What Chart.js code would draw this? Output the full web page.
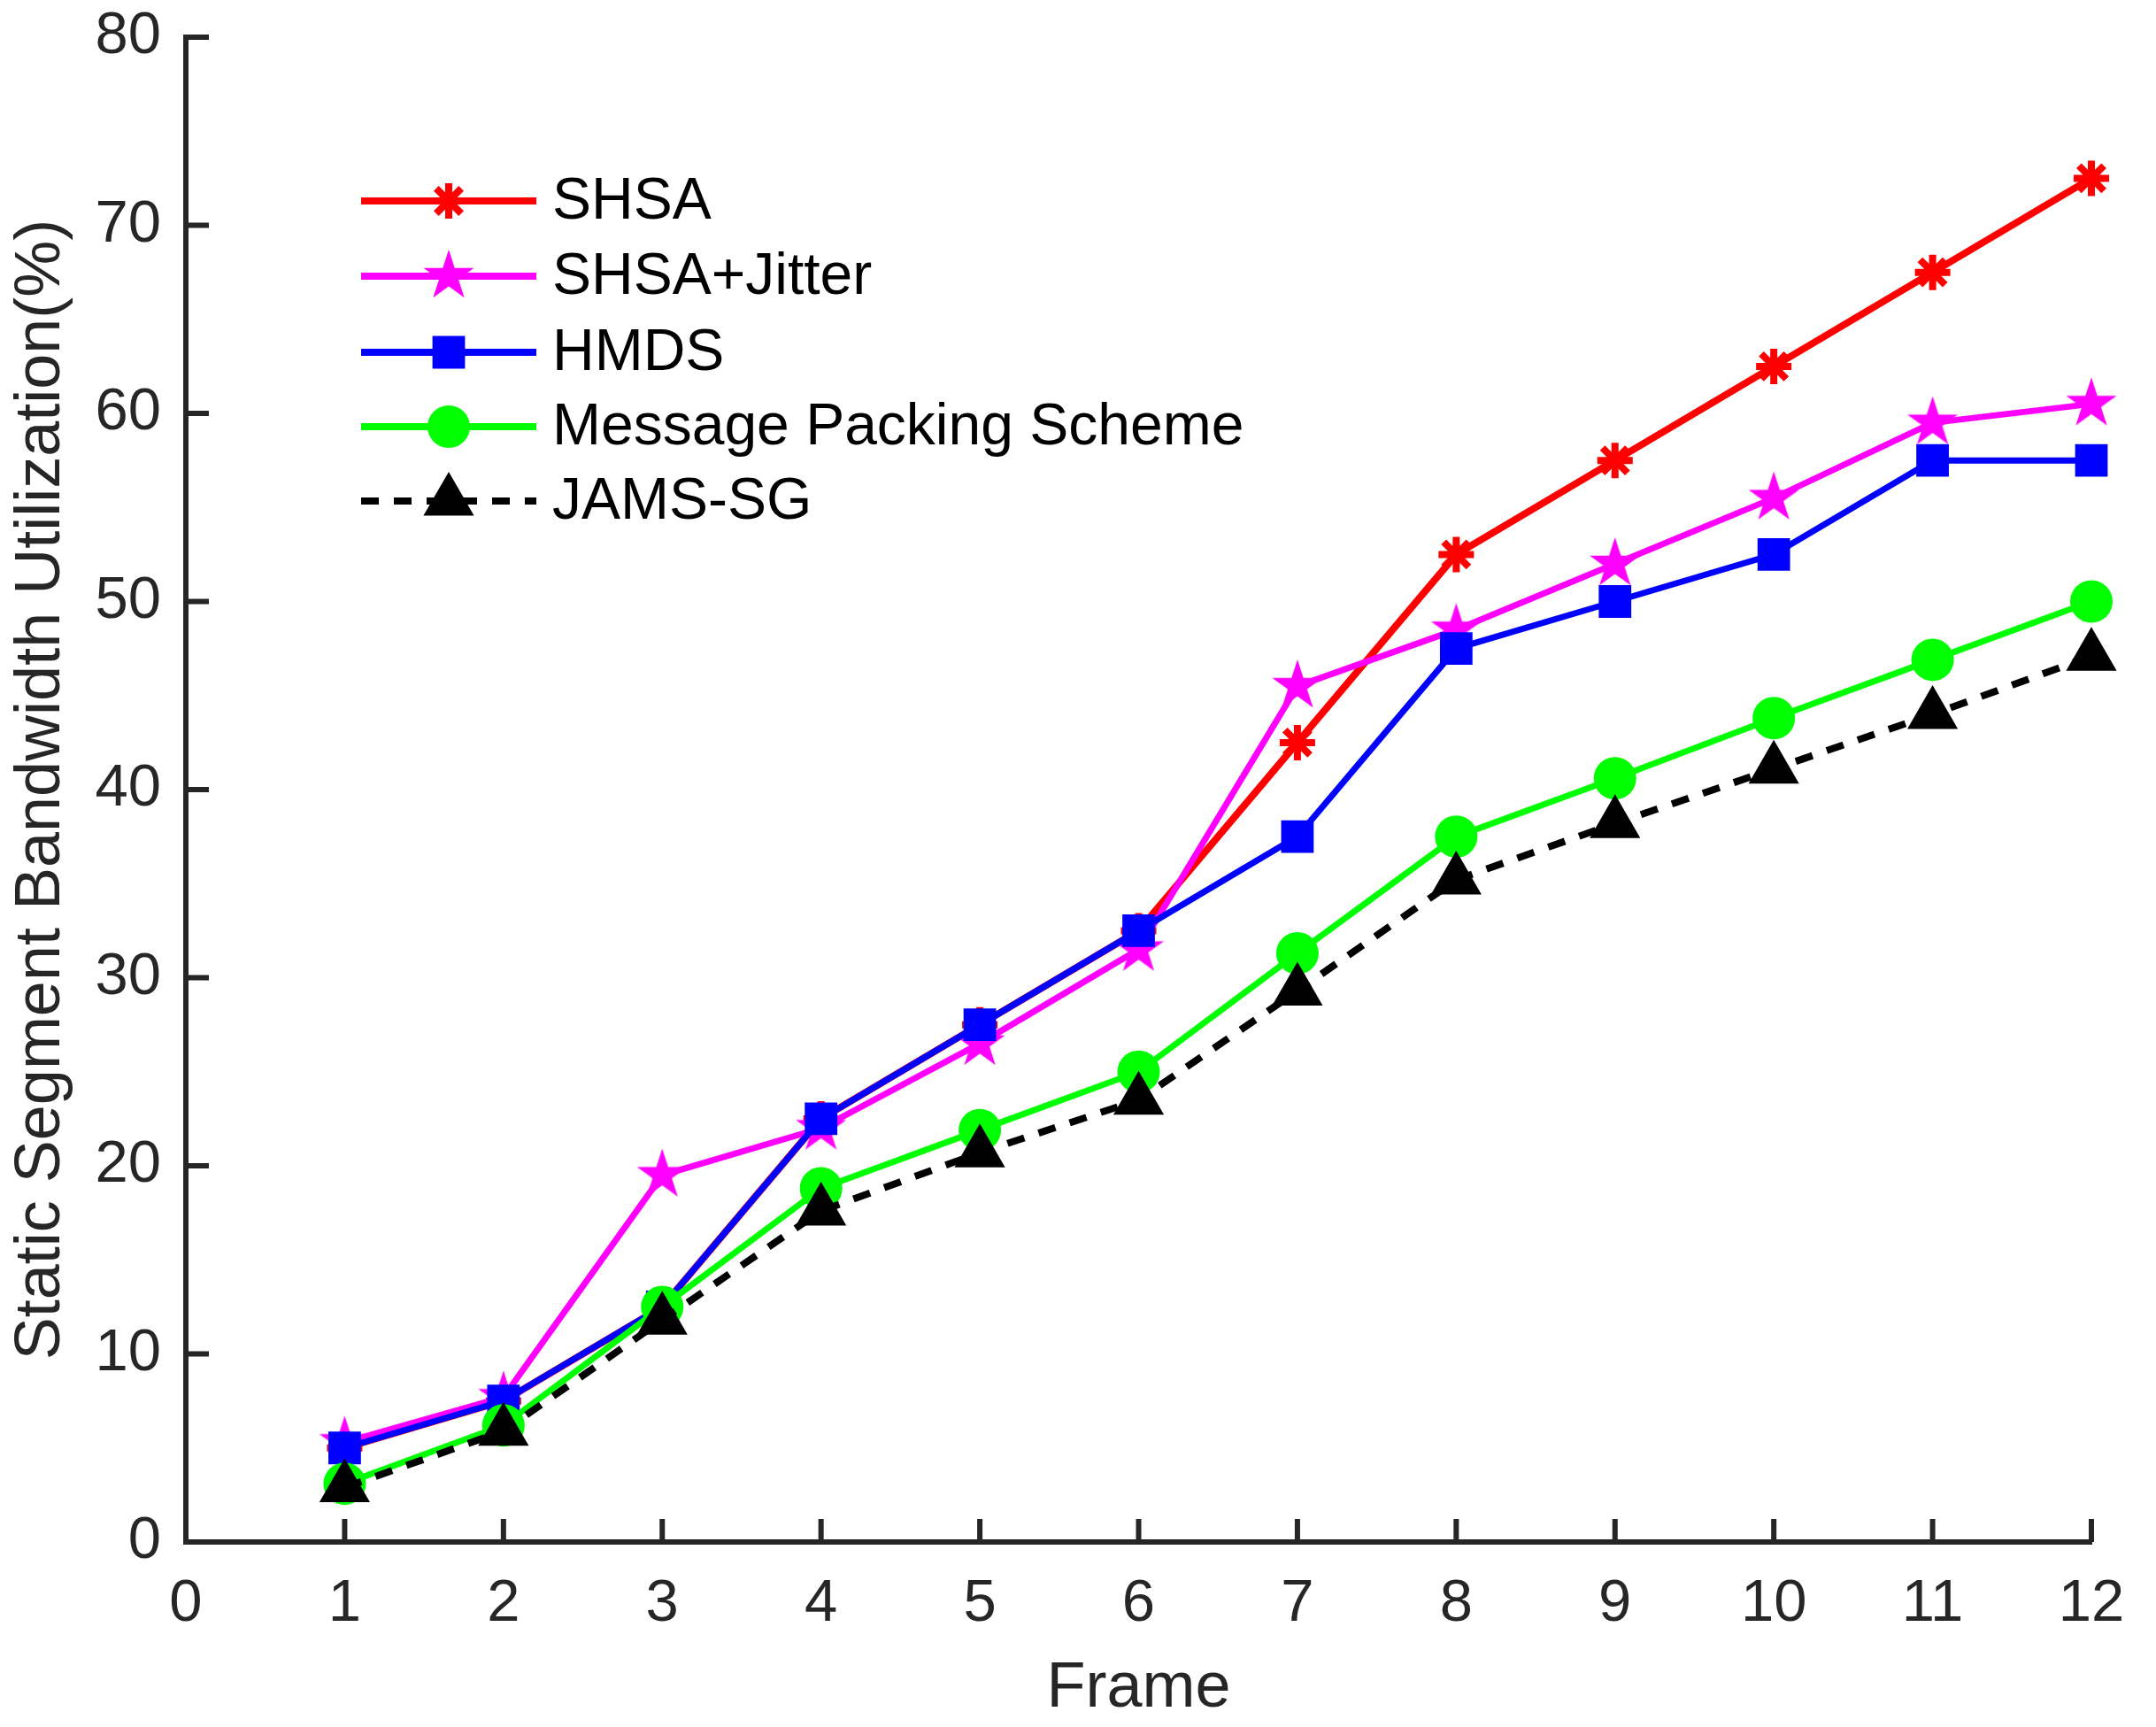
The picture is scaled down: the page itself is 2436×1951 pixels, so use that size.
<!DOCTYPE html>
<html lang="en">
<head>
<meta charset="UTF-8" />
<title>Static Segment Bandwidth Utilization</title>
<script src="https://cdn.jsdelivr.net/npm/chart.js@4/dist/chart.umd.min.js"></script>
<style>
  html, body { margin: 0; padding: 0; background: #fff; }
  #wrap { width: 2436px; height: 1951px; }
</style>
</head>
<body>
<div id="wrap"><canvas id="chart" width="2436" height="1951"></canvas></div>
<script>
// ---- data ----
const frames = [1, 2, 3, 4, 5, 6, 7, 8, 9, 10, 11, 12];
const xTickValues = [0, 1, 2, 3, 4, 5, 6, 7, 8, 9, 10, 11, 12];
const yTickValues = [0, 10, 20, 30, 40, 50, 60, 70, 80];
const seriesNames = ['SHSA', 'SHSA+Jitter', 'HMDS', 'Message Packing Scheme', 'JAMS-SG'];

const shsa       = [5, 7.5, 12.5, 22.5, 27.5, 32.5, 42.5, 52.5, 57.5, 62.5, 67.5, 72.5];
const shsaJitter = [5.3, 7.7, 19.5, 22, 26.5, 31.5, 45.5, 48.5, 52, 55.5, 59.5, 60.5];
const hmds       = [5, 7.5, 12.5, 22.5, 27.5, 32.5, 37.5, 47.5, 50, 52.5, 57.5, 57.5];
const msgPacking = [3.1, 6.2, 12.5, 18.8, 21.9, 25, 31.3, 37.5, 40.6, 43.8, 46.9, 50];
const jamsSg     = [2.9, 5.9, 11.8, 17.6, 20.7, 23.5, 29.3, 35.2, 38.2, 41.1, 44.0, 47.1];

const axisColor = '#262626';
const fontFamily = '"Liberation Sans", Arial, Helvetica, sans-serif';

// filled pentagram used as a point style (Chart.js has none)
function makePentagram(R, color) {
  const size = Math.ceil(2 * R + 4);
  const c = document.createElement('canvas');
  c.width = size; c.height = size;
  const g = c.getContext('2d');
  const cx = size / 2, cy = size / 2, r = R * 0.382;
  g.beginPath();
  for (let i = 0; i < 10; i++) {
    const a = -Math.PI / 2 + i * Math.PI / 5;
    const rad = i % 2 === 0 ? R : r;
    const px = cx + rad * Math.cos(a), py = cy + rad * Math.sin(a);
    if (i === 0) g.moveTo(px, py); else g.lineTo(px, py);
  }
  g.closePath();
  g.fillStyle = color;
  g.fill();
  return c;
}
const pentagram = makePentagram(30, '#FF00FF');

const toPoints = ys => frames.map((f, i) => ({ x: f, y: ys[i] }));

const datasets = [
  { label: seriesNames[0], data: toPoints(shsa), borderColor: '#FF0000', backgroundColor: '#FF0000',
    pointStyle: 'star', pointRadius: 20, pointBorderWidth: 8, borderWidth: 8, order: 5 },
  { label: seriesNames[1], data: toPoints(shsaJitter), borderColor: '#FF00FF', backgroundColor: '#FF00FF',
    pointStyle: pentagram, pointRadius: 30, pointBorderWidth: 0, order: 4 },
  { label: seriesNames[2], data: toPoints(hmds), borderColor: '#0000FF', backgroundColor: '#0000FF',
    pointStyle: 'rect', pointRadius: 26, pointBorderWidth: 0, order: 3 },
  { label: seriesNames[3], data: toPoints(msgPacking), borderColor: '#00FF00', backgroundColor: '#00FF00',
    pointStyle: 'circle', pointRadius: 24, pointBorderWidth: 0, order: 2 },
  { label: seriesNames[4], data: toPoints(jamsSg), borderColor: '#000000', backgroundColor: '#000000',
    pointStyle: 'triangle', pointRadius: 33, pointBorderWidth: 0, borderWidth: 8,
    borderDash: [20, 17], order: 1 }
].map(d => Object.assign({ borderWidth: 7, tension: 0, fill: false, clip: false,
  pointHoverRadius: d.pointRadius }, d));

// inward tick marks, MATLAB style
const inwardTicks = {
  id: 'inwardTicks',
  beforeDatasetsDraw(chart) {
    const { ctx, chartArea, scales } = chart;
    const len = 26;
    ctx.save();
    ctx.strokeStyle = axisColor;
    ctx.lineWidth = 6;
    ctx.beginPath();
    xTickValues.forEach(v => {
      const px = scales.x.getPixelForValue(v);
      ctx.moveTo(px, chartArea.bottom);
      ctx.lineTo(px, chartArea.bottom - len);
    });
    yTickValues.forEach(v => {
      const py = scales.y.getPixelForValue(v);
      ctx.moveTo(chartArea.left, py);
      ctx.lineTo(chartArea.left + len, py);
    });
    ctx.stroke();
    ctx.restore();
  }
};

// legend drawn inside the axes, no box
const insideLegend = {
  id: 'insideLegend',
  afterDraw(chart) {
    const { ctx } = chart;
    const lineX0 = 408, lineX1 = 606, markX = 507, textX = 624;
    const rowY = [227, 312, 398, 482, 566];
    ctx.save();
    chart.data.datasets.forEach((ds, i) => {
      const y = rowY[i];
      ctx.strokeStyle = ds.borderColor;
      ctx.lineWidth = 8;
      ctx.setLineDash(ds.borderDash || []);
      ctx.beginPath();
      ctx.moveTo(lineX0, y);
      ctx.lineTo(lineX1, y);
      ctx.stroke();
      ctx.setLineDash([]);
      ctx.fillStyle = ds.backgroundColor;
      ctx.strokeStyle = ds.borderColor;
      Chart.helpers.drawPoint(ctx, {
        pointStyle: ds.pointStyle, radius: ds.pointRadius, rotation: 0,
        borderWidth: ds.pointBorderWidth
      }, markX, y);
      ctx.fillStyle = '#000';
      ctx.font = '66px ' + fontFamily;
      ctx.textAlign = 'left';
      ctx.textBaseline = 'middle';
      ctx.fillText(ds.label, textX, y + 2);
    });
    ctx.restore();
  }
};

new Chart(document.getElementById('chart').getContext('2d'), {
  type: 'line',
  data: { datasets },
  options: {
    responsive: false,
    devicePixelRatio: 1,
    animation: false,
    events: [],
    layout: { padding: { top: 42, right: 73, left: 0, bottom: 0 } },
    plugins: { legend: { display: false }, tooltip: { enabled: false } },
    scales: {
      x: {
        type: 'linear', min: 0, max: 12,
        afterFit: s => { s.height = 209; s.paddingLeft = 0; s.paddingRight = 0; },
        afterBuildTicks: s => { s.ticks = xTickValues.map(v => ({ value: v })); },
        grid: { drawOnChartArea: false, drawTicks: false },
        border: { display: true, color: axisColor, width: 6 },
        ticks: { color: axisColor, padding: 30, maxRotation: 0, autoSkip: false,
          font: { family: fontFamily, size: 67 } },
        title: { display: true, text: 'Frame', color: axisColor, padding: { top: 0, bottom: 0 },
          font: { family: fontFamily, size: 72 } }
      },
      y: {
        type: 'linear', min: 0, max: 80,
        afterFit: s => { s.width = 210; s.paddingTop = 0; s.paddingBottom = 0; },
        afterBuildTicks: s => { s.ticks = yTickValues.map(v => ({ value: v })); },
        grid: { drawOnChartArea: false, drawTicks: false },
        border: { display: true, color: axisColor, width: 6 },
        ticks: { color: axisColor, padding: 28, autoSkip: false,
          font: { family: fontFamily, size: 67 } },
        title: { display: true, text: 'Static Segment Bandwidth Utilization(%)', color: axisColor,
          padding: { top: 4, bottom: 0 }, font: { family: fontFamily, size: 72 } }
      }
    }
  },
  plugins: [inwardTicks, insideLegend]
});
</script>
</body>
</html>
